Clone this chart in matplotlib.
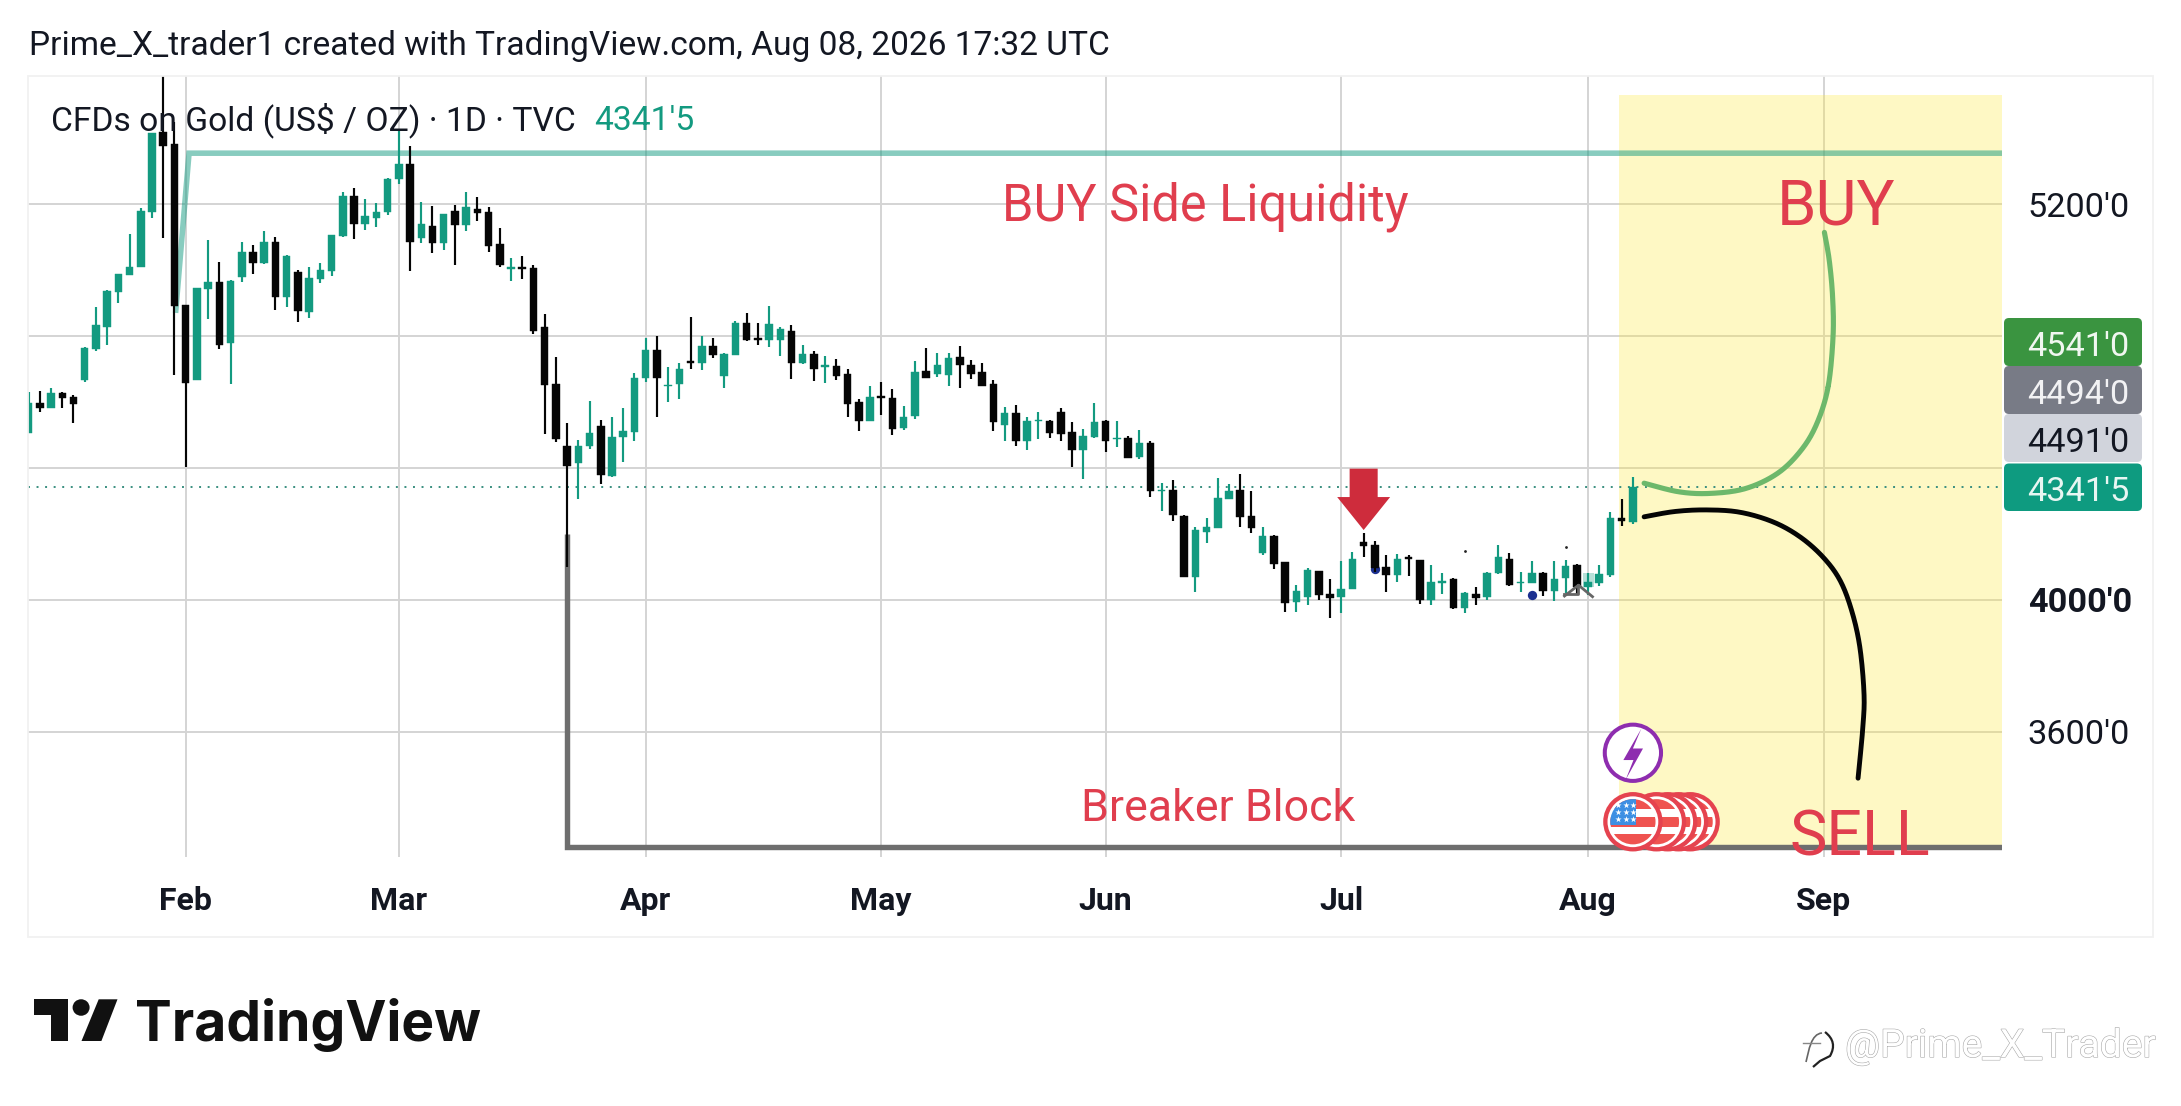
import numpy as np
import matplotlib
matplotlib.use("Agg")
import matplotlib.pyplot as plt
from matplotlib.patches import Rectangle, Ellipse, Polygon, FancyBboxPatch, PathPatch
from matplotlib.path import Path
import matplotlib.patheffects as pe

plt.rcParams['font.family'] = ['Roboto', 'DejaVu Sans']

opens = [4507,4596,4582,4626,4614,4666,4761,4828,4934,4986,5010,5176,5418,5382,4894,4666,4943,4965,4779,4979,
         5056,5022,5085,4919,4994,4873,4972,4998,5103,5224,5139,5158,5175,5276,5321,5097,5133,5083,5179,5136,
         5184,5175,5079,5004,5008,5006,4826,4654,4468,4416,4466,4527,4376,4495,4509,4673,4758,4647,4655,4724,
         4719,4770,4679,4743,4840,4793,4788,4788,4815,4719,4746,4707,4709,4685,4599,4543,4617,4611,4521,4558,
         4694,4685,4682,4736,4711,4690,4654,4529,4566,4483,4541,4543,4569,4508,4456,4494,4541,4487,4491,4434,
         4475,4330,4333,4255,4071,4206,4219,4307,4332,4256,4142,4194,4114,3995,4010,4087,4017,4010,4034,4175,
         4166,4099,4077,4130,4120,4000,4052,4064,3977,4017,4008,4082,4123,4052,4052,4081,4028,4067,4105,4040,
         4050,4077,4248,4237]
highs = [4629,4633,4641,4631,4620,4767,4887,4939,4988,5109,5187,5416,5588,5449,4894,4945,5091,5024,4969,5085,
         5077,5117,5099,5044,5000,5008,5020,5106,5236,5248,5214,5202,5278,5424,5377,5205,5194,5171,5197,5236,
         5221,5190,5127,5037,5042,5014,4866,4735,4535,4485,4602,4545,4555,4581,4687,4793,4800,4705,4717,4857,
         4800,4793,4748,4845,4869,4840,4891,4827,4833,4772,4754,4739,4730,4699,4608,4647,4660,4639,4588,4723,
         4763,4748,4748,4771,4728,4717,4666,4584,4590,4554,4569,4546,4581,4539,4517,4596,4545,4543,4497,4515,
         4481,4354,4363,4257,4220,4247,4369,4353,4381,4330,4220,4198,4114,4044,4096,4089,4063,4117,4144,4202,
         4180,4136,4138,4136,4120,4106,4081,4068,4023,4040,4085,4166,4141,4084,4117,4084,4117,4120,4110,4081,
         4106,4268,4306,4372]
lows = [4507,4570,4582,4582,4537,4660,4755,4772,4901,4986,5010,5158,5098,4683,4402,4666,4852,4761,4656,4964,
        4988,5018,4879,4887,4843,4855,4961,4983,5101,5094,5121,5131,5167,5260,4998,5083,5052,5060,5016,5119,
        5148,5055,5010,4967,4973,4806,4503,4478,4101,4307,4458,4351,4374,4418,4483,4662,4556,4601,4610,4700,
        4697,4732,4641,4743,4785,4774,4768,4738,4671,4716,4665,4659,4668,4556,4513,4541,4562,4501,4515,4548,
        4674,4675,4650,4641,4671,4647,4513,4483,4468,4455,4489,4492,4483,4404,4368,4492,4449,4465,4429,4426,
        4313,4271,4238,4071,4025,4174,4219,4307,4222,4204,4137,4093,3963,3965,3986,4000,3946,3962,4034,4131,
        4085,4025,4055,4074,3989,3985,4018,3972,3962,3986,4000,4080,4043,4025,4052,4013,3997,4020,4018,4015,
        4043,4069,4224,4231]
closes = [4596,4581,4626,4613,4595,4763,4832,4937,4987,5008,5179,5414,5376,4891,4658,4945,4963,4772,4967,5056,
          5022,5085,4919,5042,4876,4975,5000,5105,5224,5140,5163,5177,5277,5321,5086,5139,5083,5169,5137,5190,
          5173,5074,5015,5008,5004,4816,4652,4489,4407,4468,4505,4379,4493,4512,4672,4758,4674,4652,4700,4719,
          4770,4743,4746,4839,4788,4789,4837,4821,4717,4746,4701,4711,4679,4594,4541,4614,4613,4519,4554,4691,
          4674,4711,4734,4713,4686,4647,4538,4566,4483,4543,4545,4507,4503,4456,4496,4539,4482,4491,4431,4475,
          4329,4334,4259,4071,4211,4221,4308,4330,4252,4218,4194,4110,3992,4026,4091,4016,4007,4032,4124,4165,
          4096,4077,4124,4125,4000,4054,4059,3976,4020,4007,4081,4129,4045,4056,4081,4028,4065,4102,4040,4054,
          4079,4250,4239,4341.5]

month_labels = ['Feb', 'Mar', 'Apr', 'May', 'Jun', 'Jul', 'Aug', 'Sep']
month_index = [14, 33, 55, 76, 96, 117, 139, 160]
price_ticks = [3600, 4000, 4400, 4800, 5200]
price_tick_labels = ["3600'0", "4000'0", "", "", "5200'0"]
last_price = 4341.5
liquidity_level = 5354
breaker_level = 3252
badge_labels = ["4541'0", "4494'0", "4491'0", "4341'5"]
badge_colors = ['#3A9440', '#787B86', '#D1D4DC', '#0E9B80']
badge_text = ['#F0F7F0', '#F2F2F4', '#131722', '#E8F6F2']

W, H = 2181, 1106
TEAL = '#139A80'
BLACK = '#050505'
RED = '#E03E4E'
INK = '#131722'
fig = plt.figure(figsize=(W / 100, H / 100), dpi=100, facecolor='white')

# plot area: 28..2002 px across, 76..857 px down
ax = fig.add_axes([28 / W, 1 - 857 / H, (2002 - 28) / W, (857 - 76) / H])
ax.set_xlim(-0.055, 175.9)
ax.set_ylim(3221.2, 5587.9)
for s in ax.spines.values():
    s.set_visible(False)
ax.set_axisbelow(True)
ax.grid(True, color='#D4D4D4', lw=1.4)
ax.set_xticks(month_index)
ax.set_xticklabels(month_labels, fontsize=23, fontweight='bold', color=INK)
ax.set_yticks(price_ticks)
ax.yaxis.tick_right()
ax.set_yticklabels(price_tick_labels, fontsize=24.7, color=INK)
ax.tick_params(axis='x', length=0, pad=21)
ax.tick_params(axis='y', length=0, pad=18.5)
for lab in ax.get_yticklabels():
    if lab.get_text().startswith('4000'):
        lab.set_fontweight('bold')

# yellow zone
ax.axvspan(144 - 2.28, 175.9, ymin=(breaker_level - 3221.2) / (5587.9 - 3221.2),
           ymax=(5530 - 3221.2) / (5587.9 - 3221.2),
           facecolor=(0.992, 0.91, 0.235, 0.30), edgecolor='none', zorder=1)

# levels
ax.plot([13.1, 14.3, 175.9], [4870, liquidity_level, liquidity_level], color=TEAL, alpha=0.5,
        lw=4, zorder=2, solid_joinstyle='miter', solid_capstyle='butt')
ax.plot([48, 48, 175.9], [4200, breaker_level, breaker_level], color='#6E6E6E', lw=3.9,
        zorder=2, solid_joinstyle='miter', solid_capstyle='butt')
ax.hlines(last_price, -0.055, 175.9, color='#3A8F80', lw=1.4, linestyles=[(0, (1, 3.4))], zorder=2)

# candles
idx = np.arange(len(opens))
o, h, l, c = map(np.array, (opens, highs, lows, closes))
up = c >= o
cols = np.where(up, TEAL, BLACK)
ax.vlines(idx, l, h, colors=cols, lw=1.55, zorder=3)
ax.bar(idx, np.maximum(np.abs(c - o), 4), bottom=np.minimum(o, c), width=0.67, color=cols,
       edgecolor=cols, linewidth=0.3, zorder=3)

# small marks around the candles
ax.scatter([120, 134], [4094, 4015], s=45, color='#1B2F8F', zorder=2.8, linewidths=0)
ax.scatter([128, 137], [4147, 4161], s=4, color='#222222', zorder=4, linewidths=0)
ax.add_patch(Rectangle((138.55, 4040), 1.0, 42, facecolor=TEAL, alpha=0.3, edgecolor='none', zorder=4))
ax.plot([136.9, 138.15, 139.4], [4012, 4045, 4010], color='#666666', lw=2, zorder=4)
ax.plot([136.9, 138.1, 138.1], [4018, 4018, 4045], color='#666666', lw=2, zorder=4)

# red arrow
ax.add_patch(Polygon([(117.75, 4398), (120.25, 4398), (120.25, 4312), (121.36, 4312), (119, 4212),
                      (116.64, 4312), (117.75, 4312)], closed=True, facecolor='#CE2C3C',
                     edgecolor='none', zorder=5))


def smooth(pts, n=24):
    pts = np.asarray(pts, float)
    p = np.vstack([pts[0], pts, pts[-1]])
    out = []
    for k in range(1, len(p) - 2):
        t = np.linspace(0, 1, n)[:, None]
        a, b, cc, d = p[k - 1], p[k], p[k + 1], p[k + 2]
        out.append(0.5 * (2 * b + (cc - a) * t + (2 * a - 5 * b + 4 * cc - d) * t ** 2
                          + (3 * b - a - 3 * cc + d) * t ** 3))
    return np.vstack(out)


green_curve = [(144.0, 4354), (147.07, 4328), (149.9, 4323), (153.06, 4338), (155.9, 4384), (158.0, 4454),
               (159.4, 4535), (160.4, 4646), (160.84, 4798), (160.8, 4919), (160.5, 5030), (160.07, 5114)]
black_curve = [(144.0, 4252), (146.7, 4268), (149.55, 4273), (152.53, 4266), (155.47, 4237), (157.87, 4192),
               (159.92, 4131), (161.44, 4061), (162.48, 3970), (163.22, 3859), (163.6, 3717), (163.5, 3616),
               (163.07, 3460)]
g = smooth(green_curve)
ax.plot(g[:, 0], g[:, 1], color='#6DB86B', lw=3.7, zorder=5, solid_capstyle='round')
b = smooth(black_curve)
ax.plot(b[:, 0], b[:, 1], color='#050505', lw=3.5, zorder=5, solid_capstyle='round')

# annotation texts
ax.text(86.75, 5151.5, 'BUY Side Liquidity', color=RED, fontsize=36.4, va='baseline', ha='left', zorder=6)
ax.text(93.8, 3330, 'Breaker Block', color=RED, fontsize=32.2, va='baseline', ha='left', zorder=6)
ax.text(155.85, 5139, 'BUY', color=RED, fontsize=45.5, va='baseline', ha='left', zorder=6)
ax.text(157.0, 3227, 'SELL', color=RED, fontsize=45.3, va='baseline', ha='left', zorder=6)

# event badges: px offsets -> data (11.22 px per bar, 0.33 px per $)
RX, RY = 29 / 11.22, 29 / 0.33
ax.add_patch(Ellipse((143, 3537), 2 * RX * 0.97, 2 * RY * 0.97, facecolor='white', edgecolor='#8E2DAF',
                     lw=2.9, zorder=6))
ax.add_patch(Polygon([(143.75, 3610), (142.15, 3515), (143.05, 3515), (142.35, 3455), (143.9, 3550), (143.0, 3550)],
                     closed=True, facecolor='#8E2DAF', edgecolor='none', zorder=6.1))


def flag(ci, z, stars=False):
    cp = 3328
    ax.add_patch(Ellipse((ci, cp), 2 * RX * 0.95, 2 * RY * 0.95, facecolor='white', edgecolor='#E5434F',
                         lw=3.1, zorder=z))
    clip = Ellipse((ci, cp), 2 * RX * 0.78, 2 * RY * 0.78, transform=ax.transData)
    for top_, bot in ((-23, -13), (-5, 5), (12, 23)):
        r = Rectangle((ci - RX, cp - bot / 0.33), 2 * RX, (bot - top_) / 0.33, facecolor='#EF5350',
                      edgecolor='none', zorder=z + 0.01)
        ax.add_patch(r)
        r.set_clip_path(clip)
    if stars:
        r = Rectangle((ci - 24 / 11.22, cp - 3 / 0.33), 27 / 11.22, 26 / 0.33, facecolor='#3D8FE3',
                      edgecolor='none', zorder=z + 0.02)
        ax.add_patch(r)
        r.set_clip_path(clip)
        sx, sy = [], []
        for dy in (-17, -10, -3):
            for dx in (-15, -7, 0):
                sx.append(ci + dx / 11.22)
                sy.append(cp - dy / 0.33)
        ax.scatter(sx, sy, marker='*', s=22, color='white', linewidths=0, zorder=z + 0.03)


for n, ci in enumerate([148.1, 147.07, 146.1, 145.1]):
    flag(ci, 6.2 + n * 0.1)
flag(143, 6.7, stars=True)

# page chrome in pixel coordinates
top = fig.add_axes([0, 0, 1, 1], zorder=5)
top.set_xlim(0, W)
top.set_ylim(H, 0)
top.axis('off')
top.patch.set_alpha(0)
top.add_patch(Rectangle((28, 75.7), 2153 - 28, 937 - 75.7, fill=False, edgecolor='#F1F1F1', lw=1.3))
top.text(29, 55, 'Prime_X_trader1 created with TradingView.com, Aug 08, 2026 17:32 UTC', fontsize=24.17,
         color=INK, va='baseline', ha='left')
top.text(51, 130, 'CFDs on Gold (US$ / OZ) · 1D · TVC', fontsize=24.2, color=INK, va='baseline', ha='left')
top.text(594, 130, "4341'5", fontsize=24.2, color=TEAL, va='baseline', ha='left')

tops = [318, 366, 414, 463.5]
for y0, lab, colr, tc in zip(tops, badge_labels, badge_colors, badge_text):
    hgt = 48 if y0 < 460 else 47.5
    top.add_patch(FancyBboxPatch((2004, y0), 138, hgt, boxstyle='round,pad=0,rounding_size=5',
                                 facecolor=colr, edgecolor='none'))
    top.text(2027, y0 + hgt / 2 + 5, lab, fontsize=24.7, color=tc, va='center', ha='left')

# TradingView logo
dark = '#111111'
top.add_patch(Polygon([(33.7, 999.3), (68.1, 999.3), (68.1, 1041), (50.5, 1041), (50.5, 1015.3), (33.7, 1015.3)],
                      closed=True, facecolor=dark, edgecolor='none'))
top.add_patch(Ellipse((81.1, 1007.5), 17, 16.5, facecolor=dark, edgecolor='none'))
top.add_patch(Polygon([(98.7, 999.3), (117.5, 999.3), (101.4, 1041), (81.5, 1041)], closed=True,
                      facecolor=dark, edgecolor='none'))
top.text(135, 1041, 'TradingView', fontsize=39.7, fontweight='bold', family=['Inter', 'DejaVu Sans'], color=dark,
         va='baseline', ha='left')

# watermark
wm = top.text(1845, 1057, '@Prime_X_Trader', fontsize=28.1, color='white', va='baseline', ha='left')
wm.set_path_effects([pe.withStroke(linewidth=0.8, foreground='#A8A8A8')])
bubble = Path([(1825, 1032), (1838, 1042), (1830, 1056), (1820, 1061), (1813, 1067)],
              [Path.MOVETO, Path.CURVE3, Path.CURVE3, Path.LINETO, Path.LINETO])
top.add_patch(PathPatch(bubble, fill=False, edgecolor='#222222', lw=1.6))
f_shape = Path([(1822, 1033), (1811, 1034), (1809, 1050), (1806, 1062)],
               [Path.MOVETO, Path.CURVE4, Path.CURVE4, Path.CURVE4])
top.add_patch(PathPatch(f_shape, fill=False, edgecolor='#666666', lw=1.2))
top.plot([1803, 1820], [1043, 1043], color='#888888', lw=1)

fig.savefig('out.png', dpi=100, facecolor='white')
